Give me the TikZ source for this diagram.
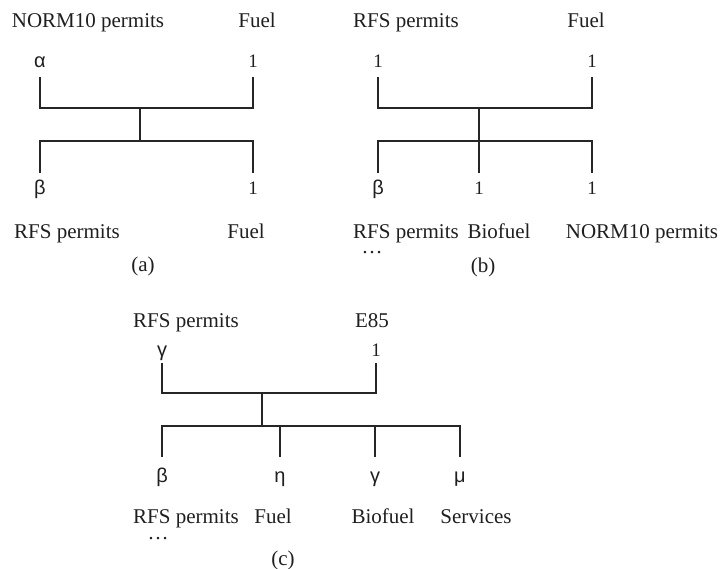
\documentclass[tikz,border=0pt]{standalone}
\usepackage{fontspec}
\setmainfont{Liberation Serif}
\newfontfamily\gfont{Liberation Sans}
\begin{document}
\begin{tikzpicture}[x=1pt,y=-1pt,
  lbl/.style={font=\fontsize{21}{21}\selectfont, anchor=base, inner sep=0pt, text=black!88},
  gk/.style={font=\gfont\fontsize{20}{20}\selectfont, anchor=base, inner sep=0pt, text=black!88},
  num/.style={font=\fontsize{19}{19}\selectfont, anchor=base, inner sep=0pt, text=black!88},
  tree/.style={line width=1.3pt, draw=black!85}]
\useasboundingbox (0,0) rectangle (722,569);

% ---------- (a) ----------
\node[lbl] (aN) at (88,28) {NORM10 permits};
\node[lbl] (aF) at (257,28) {Fuel};
\node[gk] (aal) at (40,68) {α};
\node[num] (a1) at (253,68) {1};
\node[gk] (abe) at (40,195) {β};
\node[num] (a2) at (253,195) {1};
\node[lbl] (aR) at (67,238) {RFS permits};
\node[lbl] (aF2) at (246,238) {Fuel};
\node[lbl] (acap) at (143,271) {(a)};
\coordinate (aTL) at (40,77); \coordinate (aTR) at (253,77);
\coordinate (aHL) at (40,108); \coordinate (aHR) at (253,108);
\coordinate (aM1) at (140,108); \coordinate (aM2) at (140,141);
\coordinate (aBL1) at (40,141); \coordinate (aBR1) at (253,141);
\coordinate (aBL2) at (40,173); \coordinate (aBR2) at (253,173);
\draw[tree] (aTL) -- (aHL) -- (aHR) -- (aTR);
\draw[tree] (aM1) -- (aM2);
\draw[tree] (aBL2) -- (aBL1) -- (aBR1) -- (aBR2);

% ---------- (b) ----------
\node[lbl] (bR) at (406,28) {RFS permits};
\node[lbl] (bF) at (586,28) {Fuel};
\node[num] (b1) at (378,68) {1};
\node[num] (b2) at (592,68) {1};
\node[gk] (bbe) at (378,195) {β};
\node[num] (b3) at (479,195) {1};
\node[num] (b4) at (592,195) {1};
\node[lbl] (bR2) at (406,238) {RFS permits};
\node[lbl] (bB) at (499,238) {Biofuel};
\node[lbl] (bN) at (642,238) {NORM10 permits};
\node[lbl] (bdots) at (372,254) {…};
\node[lbl] (bcap) at (483,272) {(b)};
\coordinate (bTL) at (378,77); \coordinate (bTR) at (592,77);
\coordinate (bHL) at (378,108); \coordinate (bHR) at (592,108);
\coordinate (bM1) at (479,108); \coordinate (bM2) at (479,141);
\coordinate (bBL1) at (378,141); \coordinate (bBR1) at (592,141);
\coordinate (bBL2) at (378,173); \coordinate (bBR2) at (592,173);
\coordinate (bBM2) at (479,173);
\draw[tree] (bTL) -- (bHL) -- (bHR) -- (bTR);
\draw[tree] (bM1) -- (bM2) -- (bBM2);
\draw[tree] (bBL2) -- (bBL1) -- (bBR1) -- (bBR2);

% ---------- (c) ----------
\node[lbl] (cR) at (186,327) {RFS permits};
\node[lbl] (cE) at (372,327) {E85};
\node[gk] (cga) at (162,356) {γ};
\node[num] (c1) at (376,356) {1};
\node[gk] (cbe) at (162,482) {β};
\node[gk] (ceta) at (280,482) {η};
\node[gk] (cga2) at (375,482) {γ};
\node[gk] (cmu) at (460,482) {μ};
\node[lbl] (cR2) at (186,523) {RFS permits};
\node[lbl] (cF) at (273,523) {Fuel};
\node[lbl] (cB) at (383,523) {Biofuel};
\node[lbl] (cS) at (476,523) {Services};
\node[lbl] (cdots) at (158,539) {…};
\node[lbl] (ccap) at (283,565) {(c)};
\coordinate (cTL) at (162,363); \coordinate (cTR) at (376,363);
\coordinate (cHL) at (162,393); \coordinate (cHR) at (376,393);
\coordinate (cM1) at (262,393); \coordinate (cM2) at (262,426);
\coordinate (cBL1) at (162,426); \coordinate (cBR1) at (460,426);
\coordinate (cBL2) at (162,457); \coordinate (cBR2) at (460,457);
\coordinate (cE1) at (280,426); \coordinate (cE2) at (280,457);
\coordinate (cG1) at (375,426); \coordinate (cG2) at (375,457);
\draw[tree] (cTL) -- (cHL) -- (cHR) -- (cTR);
\draw[tree] (cM1) -- (cM2);
\draw[tree] (cBL2) -- (cBL1) -- (cBR1) -- (cBR2);
\draw[tree] (cE1) -- (cE2);
\draw[tree] (cG1) -- (cG2);
\end{tikzpicture}
\end{document}
